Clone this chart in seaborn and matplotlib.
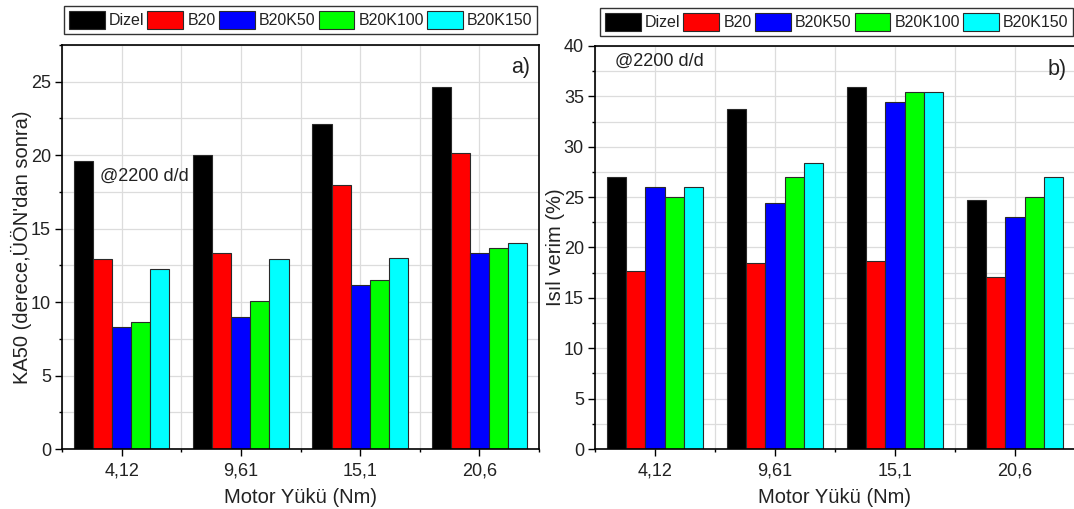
import matplotlib
matplotlib.use("Agg")
import matplotlib.pyplot as plt
from matplotlib.patches import Patch
from matplotlib.ticker import MultipleLocator, FixedLocator
import pandas as pd
import seaborn as sns

# Engine loads (Nm) and fuel blends
loads = ["4,12", "9,61", "15,1", "20,6"]
fuels = ["Dizel", "B20", "B20K50", "B20K100", "B20K150"]
fuel_colors = ["#000000", "#ff0000", "#0000ff", "#00ff00", "#00ffff"]

# KA50 (crank angle deg after TDC)
ka50_dizel = [19.6, 20.0, 22.1, 24.65]
ka50_b20 = [12.95, 13.35, 18.0, 20.15]
ka50_b20k50 = [8.28, 9.0, 11.15, 13.35]
ka50_b20k100 = [8.65, 10.07, 11.52, 13.68]
ka50_b20k150 = [12.23, 12.95, 12.98, 14.05]

# Thermal efficiency (%)
eff_dizel = [27.0, 33.75, 35.95, 24.72]
eff_b20 = [17.65, 18.5, 18.65, 17.1]
eff_b20k50 = [26.0, 24.4, 34.4, 23.0]
eff_b20k100 = [25.0, 27.0, 35.4, 25.0]
eff_b20k150 = [26.0, 28.4, 35.4, 27.0]


def long_table(series):
    rows = []
    for fuel, vals in zip(fuels, series):
        for load, v in zip(loads, vals):
            rows.append({"load": load, "fuel": fuel, "value": v})
    return pd.DataFrame(rows)


ka50_df = long_table([ka50_dizel, ka50_b20, ka50_b20k50, ka50_b20k100, ka50_b20k150])
eff_df = long_table([eff_dizel, eff_b20, eff_b20k50, eff_b20k100, eff_b20k150])

sns.set_theme(style="white")
plt.rcParams["font.family"] = ["Liberation Sans", "DejaVu Sans"]
TXT = "#222222"

W, H = 1074, 509
fig = plt.figure(figsize=(W / 100, H / 100), dpi=100)
ax1 = fig.add_axes([62 / W, (H - 449) / H, 477 / W, 404 / H])
ax2 = fig.add_axes([595 / W, (H - 449) / H, 480 / W, 403 / H])

palette = dict(zip(fuels, fuel_colors))


def draw(ax, df, ylim, major, ylabel, tag, tag_xy, note_xy):
    sns.barplot(data=df, x="load", y="value", hue="fuel", order=loads,
                hue_order=fuels, palette=palette, saturation=1, width=0.8,
                errorbar=None, edgecolor="#2a2a2a", linewidth=0.8,
                legend=False, ax=ax)
    ax.set_xlim(-0.5, 3.5)
    ax.set_ylim(*ylim)
    ax.yaxis.set_major_locator(MultipleLocator(major))
    ax.yaxis.set_minor_locator(MultipleLocator(major / 2))
    ax.xaxis.set_minor_locator(FixedLocator([-0.5, 0.5, 1.5, 2.5, 3.5]))
    ax.set_axisbelow(True)
    ax.grid(which="both", color="#dcdcdc", linewidth=0.9)
    ax.tick_params(which="major", direction="out", length=5, width=1.0,
                   labelsize=13, colors="black", labelcolor=TXT, pad=5,
                   left=True, bottom=True)
    ax.tick_params(which="major", axis="y", pad=3)
    ax.tick_params(which="minor", direction="out", length=2.5, width=1.0,
                   colors="black", left=True, bottom=True)
    for s in ax.spines.values():
        s.set_visible(True)
        s.set_color("black")
        s.set_linewidth(1.2)
    ax.set_xlabel("Motor Yükü (Nm)", fontsize=14.5, color=TXT, labelpad=6)
    ax.set_ylabel(ylabel, fontsize=14.5, color=TXT, labelpad=-1)
    ax.text(*tag_xy, tag, transform=ax.transAxes, fontsize=15.5, color=TXT,
            ha="right", va="center")
    ax.text(*note_xy, "@2200 d/d", transform=ax.transAxes, fontsize=13,
            color=TXT, ha="left", va="center")


draw(ax1, ka50_df, (0, 27.5), 5, "KA50 (derece,ÜÖN'dan sonra)", "a)",
     ((530 - 62) / 477, (449 - 67) / 404), ((100 - 62) / 477, (449 - 176) / 404))
draw(ax2, eff_df, (0, 40), 5, "Isıl verim (%)", "b)",
     ((1067 - 595) / 480, (449 - 69) / 403), ((615 - 595) / 480, (449 - 61) / 403))

handles = [Patch(facecolor=c, edgecolor="#2a2a2a", linewidth=0.8) for c in fuel_colors]
for x0, y0 in [(64, 6), (600, 8)]:
    leg = fig.legend(handles, fuels, loc="upper left",
                     bbox_to_anchor=(x0 / W, 1 - y0 / H), ncol=5,
                     fontsize=11.5, handlelength=2.25, handleheight=1.35,
                     handletextpad=0.25, columnspacing=0.2, borderpad=0.3,
                     borderaxespad=0, frameon=True, fancybox=False)
    leg.get_frame().set_edgecolor("black")
    leg.get_frame().set_linewidth(1.0)
    for t in leg.get_texts():
        t.set_color(TXT)

fig.savefig("out.png", dpi=100)
